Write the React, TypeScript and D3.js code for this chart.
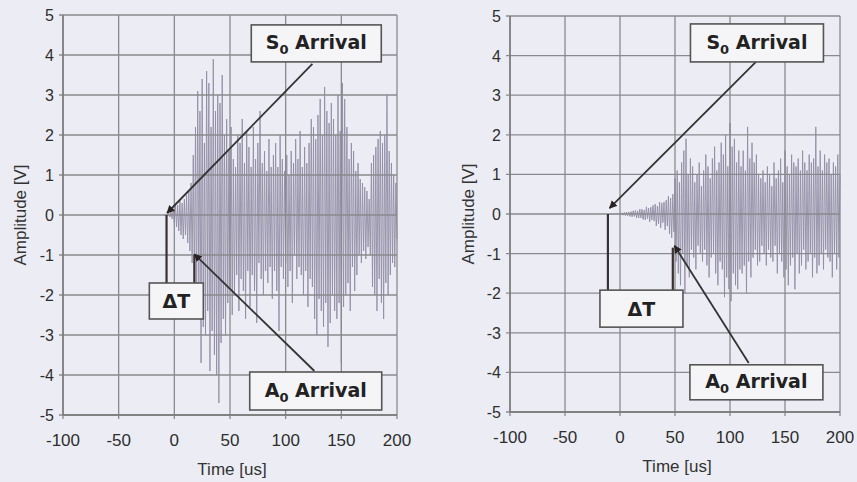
import React from 'react';
import * as d3 from 'd3';

// time axis / amplitude axis ticks
const timeTicks = [-100, -50, 0, 50, 100, 150, 200];
const ampTicks = [-5, -4, -3, -2, -1, 0, 1, 2, 3, 4, 5];

// left record: samples every 1 us starting at -10 us
const leftStart = -10;
const leftWave = [
  0, 0, 0, 0, 0, 0.05, -0.05, 0.1, -0.1, 0.15,
  -0.2, 0.3, -0.3, 0.25, -0.4, 0.35, -0.5, 0.3, -0.6, 0.4,
  -0.5, 0.5, -0.7, 0.6, -0.9, 0.8, -1.2, 1.5, -1.8, 2.2,
  -2.5, 3.1, -2.0, 2.6, -3.7, 3.4, -2.8, 1.8, -3.0, 3.6,
  -2.4, 3.3, -3.9, 2.2, -2.9, 3.9, -3.5, 2.6, -4.0, 3.0,
  -4.7, 2.8, -3.2, 3.5, -2.6, 2.0, -3.0, 2.4, -2.2, 1.6,
  -1.8, 2.2, -2.5, 1.4, -2.0, 1.2, -1.5, 2.0, -2.4, 1.8,
  -1.6, 2.4, -1.9, 1.3, -2.6, 2.1, -1.4, 1.7, -2.3, 1.2,
  -1.5, 2.2, -1.9, 1.4, -2.7, 1.8, -1.2, 2.6, -1.6, 1.3,
  -2.0, 1.6, -1.4, 1.1, -1.7, 1.9, -1.3, 1.2, -2.1, 1.5,
  -1.4, 1.8, -1.9, 1.2, -2.9, 2.0, -1.3, 1.4, -1.6, 1.1,
  -1.2, 1.5, -1.8, 1.0, -1.4, 1.6, -2.2, 1.3, -1.0, 1.9,
  -1.6, 1.4, -1.3, 2.1, -1.5, 1.2, -2.0, 1.7, -1.4, 1.3,
  -2.3, 1.8, -1.6, 2.4, -1.8, 2.2, -2.6, 1.9, -3.0, 2.5,
  -2.1, 2.9, -2.4, 2.0, -2.8, 3.2, -2.2, 2.6, -3.3, 2.3,
  -2.7, 2.8, -2.0, 2.4, -2.4, 2.0, -2.6, 3.0, -2.2, 2.1,
  -3.7, 3.3, -2.3, 2.9, -2.0, 2.2, -1.7, 1.4, -2.4, 1.8,
  -1.3, 1.6, -1.9, 1.1, -1.5, 1.3, -1.0, 0.9, -1.2, 0.8,
  -0.9, 0.7, -1.1, 0.6, -0.8, 0.4, -1.0, 1.3, -1.8, 1.5,
  -2.0, 1.7, -2.4, 1.9, -1.6, 2.1, -2.2, 1.8, -2.6, 2.0,
  -1.7, 3.0, -2.0, 1.6, -1.5, 1.3, -1.2, 1.0, -1.3, 0.8, -0.6,
];

// right record: samples every 1 us starting at -10 us
const rightStart = -10;
const rightWave = [
  0, 0, 0, 0, 0, 0, 0, 0, 0, 0,
  0.02, -0.02, 0.03, -0.03, 0.04, -0.04, 0.05, -0.04, 0.05, -0.06,
  0.06, -0.07, 0.08, -0.06, 0.09, -0.1, 0.08, -0.1, 0.12, -0.1,
  0.12, -0.14, 0.1, -0.15, 0.18, -0.12, 0.15, -0.2, 0.17, -0.15,
  0.22, -0.18, 0.25, -0.3, 0.2, -0.25, 0.3, -0.35, 0.28, -0.22,
  0.3, -0.4, 0.35, -0.3, 0.45, -0.5, 0.4, -0.6, 0.5, -0.45,
  0.9, -1.2, 1.1, -1.5, 0.8, -1.8, 1.3, -1.0, 1.6, -2.0,
  1.9, -1.3, 1.0, -1.6, 1.4, -0.9, 1.2, -1.1, 0.8, -1.4,
  1.0, -0.8, 1.3, -1.0, 0.7, -1.2, 1.1, -0.9, 1.5, -1.3,
  1.2, -1.6, 0.9, -1.1, 1.4, -1.0, 1.7, -1.5, 1.1, -1.8,
  1.3, -1.2, 1.8, -1.4, 1.5, -2.1, 2.0, -1.6, 1.2, -1.9,
  2.3, -2.2, 1.7, -1.5, 1.9, -1.8, 1.3, -1.9, 1.6, -1.4,
  1.2, -1.5, 1.6, -1.3, 1.1, -2.0, 2.2, -1.2, 1.4, -1.6,
  1.8, -1.1, 1.3, -0.9, 1.5, -1.3, 1.0, -1.2, 0.9, -0.8,
  1.1, -1.0, 0.8, -1.3, 1.2, -0.9, 1.0, -1.1, 0.7, -1.2,
  1.3, -0.8, 0.9, -1.5, 1.1, -1.0, 1.4, -1.2, 0.8, -1.6,
  1.6, -1.4, 1.2, -1.8, 1.0, -1.3, 1.5, -1.1, 1.3, -1.9,
  1.2, -1.0, 1.4, -1.5, 1.1, -1.3, 1.6, -0.9, 1.3, -1.4,
  1.1, -1.2, 1.5, -1.0, 1.3, -1.6, 1.4, -1.1, 2.2, -1.5,
  1.2, -1.3, 1.6, -1.0, 1.1, -1.4, 1.5, -0.9, 1.3, -1.1,
  1.4, -1.2, 1.0, -1.6, 1.3, -1.0, 1.2, -1.4, 1.5, -1.1, 1.0,
];

// annotations in data units [time, amplitude]
const leftNotes = {
  s0Box: [127.5, 4.29], a0Box: [127, -4.4], dtBox: [1.8, -2.15],
  s0From: [124, 3.78], s0Tip: [-6.5, 0.05],
  a0From: [125.8, -3.9], a0Tip: [18, -0.98],
  dtLeft: -7, dtRight: 18, dtRightTop: -1.0,
  s0Size: [130, 37], a0Size: [132, 38], dtSize: [54, 36],
};
const rightNotes = {
  s0Box: [124.5, 4.32], a0Box: [124, -4.25], dtBox: [19.5, -2.39],
  s0From: [123.6, 3.84], s0Tip: [-9.5, 0.15],
  a0From: [117, -3.76], a0Tip: [49.5, -0.8],
  dtLeft: -11, dtRight: 48, dtRightTop: -0.85,
  s0Size: [133, 38], a0Size: [133, 35], dtSize: [83, 37],
};

const font = '"Liberation Sans", Arial, sans-serif';
const boldFont = '"DejaVu Sans", Verdana, sans-serif';

function Label({ x, y, w, h, sub }: any) {
  return (
    <g>
      <rect x={x - w / 2} y={y - h / 2} width={w} height={h} fill="#f5f5f7" stroke="#555" strokeWidth={1.6} />
      {sub ? (
        <text x={x} y={y + 6} textAnchor="middle" fontFamily={boldFont} fontWeight="bold" fontSize={19} fill="#222">
          {sub}
          <tspan fontSize={13} dy={5}>0</tspan>
          <tspan dy={-5}> Arrival</tspan>
        </text>
      ) : (
        <text x={x} y={y + 7} textAnchor="middle" fontFamily={boldFont} fontWeight="bold" fontSize={19} fill="#222">
          ΔT
        </text>
      )}
    </g>
  );
}

function Panel({ id, px, py, start, wave, notes, titleX, ampX }: any) {
  const x = d3.scaleLinear().domain([-100, 200]).range(px);
  const y = d3.scaleLinear().domain([-5, 5]).range(py);
  const pts = wave.map((v: number, i: number) => [start + i, v]);
  const line = d3.line<number[]>().x(d => x(d[0])).y(d => y(d[1]));
  const n = notes;
  const dtTop = y(n.dtBox[1]) - n.dtSize[1] / 2;
  return (
    <g>
      <path d={line(pts) || ''} fill="none" stroke="#928da6" strokeWidth={0.9} />
      {ampTicks.map(t => (
        <line key={'h' + t} x1={x(-100) - 4} x2={x(200)} y1={y(t)} y2={y(t)} stroke="#8a8a8e" strokeWidth={1.3} />
      ))}
      {timeTicks.map(t => (
        <line key={'v' + t} x1={x(t)} x2={x(t)} y1={y(5)} y2={y(-5) + 4} stroke="#8a8a8e" strokeWidth={1.3} />
      ))}
      <line x1={x(-100)} x2={x(-100)} y1={y(5)} y2={y(-5)} stroke="#777" strokeWidth={1.4} />
      <line x1={x(-100)} x2={x(200)} y1={y(-5)} y2={y(-5)} stroke="#777" strokeWidth={1.4} />
      {ampTicks.map(t => (
        <text key={'yl' + t} x={x(-100) - 9} y={y(t) + 6} textAnchor="end" fontFamily={font} fontSize={16} fill="#2e2e2e">
          {t}
        </text>
      ))}
      {timeTicks.map(t => (
        <text key={'xl' + t} x={x(t)} y={y(-5) + 31} textAnchor="middle" fontFamily={font} fontSize={17} fill="#2e2e2e">
          {t}
        </text>
      ))}
      <text x={titleX} y={y(-5) + 60} textAnchor="middle" fontFamily={font} fontSize={17} fill="#333">
        Time [us]
      </text>
      <text
        transform={`translate(${ampX},${y(0)}) rotate(-90)`}
        textAnchor="middle"
        fontFamily={font}
        fontSize={17}
        fill="#333"
      >
        Amplitude [V]
      </text>

      {/* delta T legs */}
      <line x1={x(n.dtLeft)} x2={x(n.dtLeft)} y1={y(0)} y2={dtTop} stroke="#3a3030" strokeWidth={2.2} />
      <line x1={x(n.dtRight)} x2={x(n.dtRight)} y1={y(n.dtRightTop)} y2={dtTop} stroke="#3a3030" strokeWidth={2.2} />
      <line
        x1={x(n.s0From[0])} y1={y(n.s0From[1])} x2={x(n.s0Tip[0])} y2={y(n.s0Tip[1])}
        stroke="#333" strokeWidth={1.8} markerEnd={`url(#arr${id})`}
      />
      <line
        x1={x(n.a0From[0])} y1={y(n.a0From[1])} x2={x(n.a0Tip[0])} y2={y(n.a0Tip[1])}
        stroke="#333" strokeWidth={1.8} markerEnd={`url(#arr${id})`}
      />
      <defs>
        <marker id={`arr${id}`} viewBox="0 0 10 10" refX={9} refY={5} markerWidth={8} markerHeight={8} orient="auto" markerUnits="userSpaceOnUse">
          <path d="M0,0 L10,5 L0,10 z" fill="#2a2222" />
        </marker>
      </defs>
      <Label x={x(n.s0Box[0])} y={y(n.s0Box[1])} w={n.s0Size[0]} h={n.s0Size[1]} sub="S" />
      <Label x={x(n.a0Box[0])} y={y(n.a0Box[1])} w={n.a0Size[0]} h={n.a0Size[1]} sub="A" />
      <Label x={x(n.dtBox[0])} y={y(n.dtBox[1])} w={n.dtSize[0]} h={n.dtSize[1]} />
    </g>
  );
}

export default function App() {
  return (
    <svg width={857} height={482} style={{ position: 'absolute', left: 0, top: 0, background: '#ecedf4' }}>
      <rect x={0} y={0} width={857} height={482} fill="#ecedf4" />
      <Panel id="L" px={[63, 397]} py={[415, 15]} start={leftStart} wave={leftWave} notes={leftNotes} titleX={232} ampX={26} />
      <Panel id="R" px={[510, 840]} py={[412, 16]} start={rightStart} wave={rightWave} notes={rightNotes} titleX={677} ampX={474} />
    </svg>
  );
}
